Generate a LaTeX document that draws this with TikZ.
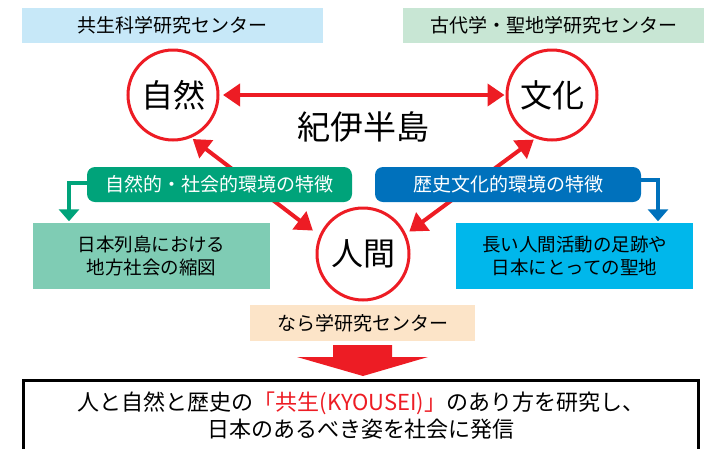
\documentclass[tikz,border=0pt]{standalone}
\usepackage{fontspec}
\newfontfamily\cjk{Noto Sans CJK JP}
\usetikzlibrary{arrows.meta}
\definecolor{myred}{RGB}{237,28,36}
\definecolor{ltblue}{RGB}{199,232,248}
\definecolor{ltgreen}{RGB}{200,230,212}
\definecolor{gteal}{RGB}{0,163,122}
\definecolor{bblue}{RGB}{0,113,188}
\definecolor{lgreen}{RGB}{127,204,180}
\definecolor{skycyan}{RGB}{0,183,235}
\definecolor{peach}{RGB}{252,228,200}
\begin{document}
\begin{tikzpicture}[x=1pt,y=-1pt,
  every node/.style={font=\cjk\fontsize{19}{23}\selectfont, inner sep=0pt},
  labelbox/.style={minimum height=35pt, text=black},
  circ/.style={circle, draw=myred, line width=3pt, fill=white, minimum size=90pt,
    font=\cjk\fontsize{32}{36}\selectfont},
  featbox/.style={rounded corners=8pt, minimum height=35pt, text=white},
  infobox/.style={minimum width=237pt, minimum height=66pt, align=center,
    font=\cjk\fontsize{18.5}{23}\selectfont},
  redarrow/.style={draw=myred, line width=4pt,
    {Triangle[length=17pt,width=22pt]}-{Triangle[length=17pt,width=22pt]}},
  elbow/.style={line width=3.5pt, -{Triangle[length=12pt,width=20pt]}}
]
\useasboundingbox (0,0) rectangle (726,448);

% top labels
\node[labelbox, fill=ltblue, minimum width=301pt] (kyosei) at (172.5,25.5) {共生科学研究センター};
\node[labelbox, fill=ltgreen, minimum width=301pt] (kodai) at (553.5,25.5) {古代学・聖地学研究センター};

% circles
\node[circ] (shizen) at (173,95) {自然};
\node[circ] (bunka) at (552,95) {文化};
\node[circ, minimum size=92pt] (ningen) at (363,254) {人間};
\node[font=\cjk\fontsize{33}{36}\selectfont] (kii) at (363,127) {紀伊半島};

% red arrows
\draw[redarrow, shorten <=3.5pt, shorten >=1pt] (shizen.east) -- (bunka.west);
\draw[redarrow, shorten <=2pt, shorten >=8pt] (shizen.-67) -- (ningen.157);
\draw[redarrow, shorten <=2pt, shorten >=4pt] (bunka.-111) -- (ningen.25);

% feature boxes
\node[featbox, fill=gteal, minimum width=265pt] (gfeat) at (219.5,184.5) {自然的・社会的環境の特徴};
\node[featbox, fill=bblue, minimum width=266pt] (bfeat) at (508,184.5) {歴史文化的環境の特徴};

% info boxes
\node[infobox, fill=lgreen] (ginfo) at (151.5,256) {日本列島における\\地方社会の縮図};
\node[infobox, fill=skycyan] (binfo) at (574.5,256) {長い人間活動の足跡や\\日本にとっての聖地};

% elbow connectors
\coordinate (gturn) at (69,183);
\coordinate (bturn) at (658,180);
\draw[elbow, draw=gteal, shorten >=1.5pt] (gfeat.west |- gturn) -- (gturn) -- (ginfo.north -| gturn);
\draw[elbow, draw=bblue, shorten >=1.5pt] (bfeat.east |- bturn) -- (bturn) -- (binfo.north -| bturn);

% nara
\node[labelbox, fill=peach, minimum width=225pt, minimum height=36pt] (nara) at (362.5,323) {なら学研究センター};

% big arrow
\fill[myred] (333,345) -- (392,345) -- (392,357) -- (428,357) -- (363,376) -- (297,357) -- (333,357) -- cycle;

% bottom box
\draw[line width=3pt] (23,452) -- (23,380) -- (698,380) -- (698,452);
\node[align=center, font=\cjk\fontsize{22}{27}\selectfont] (msg) at (361,415.5)
  {人と自然と歴史の{\color{myred}「共生(KYOUSEI)」}のあり方を研究し、\\日本のあるべき姿を社会に発信};
\end{tikzpicture}
\end{document}
